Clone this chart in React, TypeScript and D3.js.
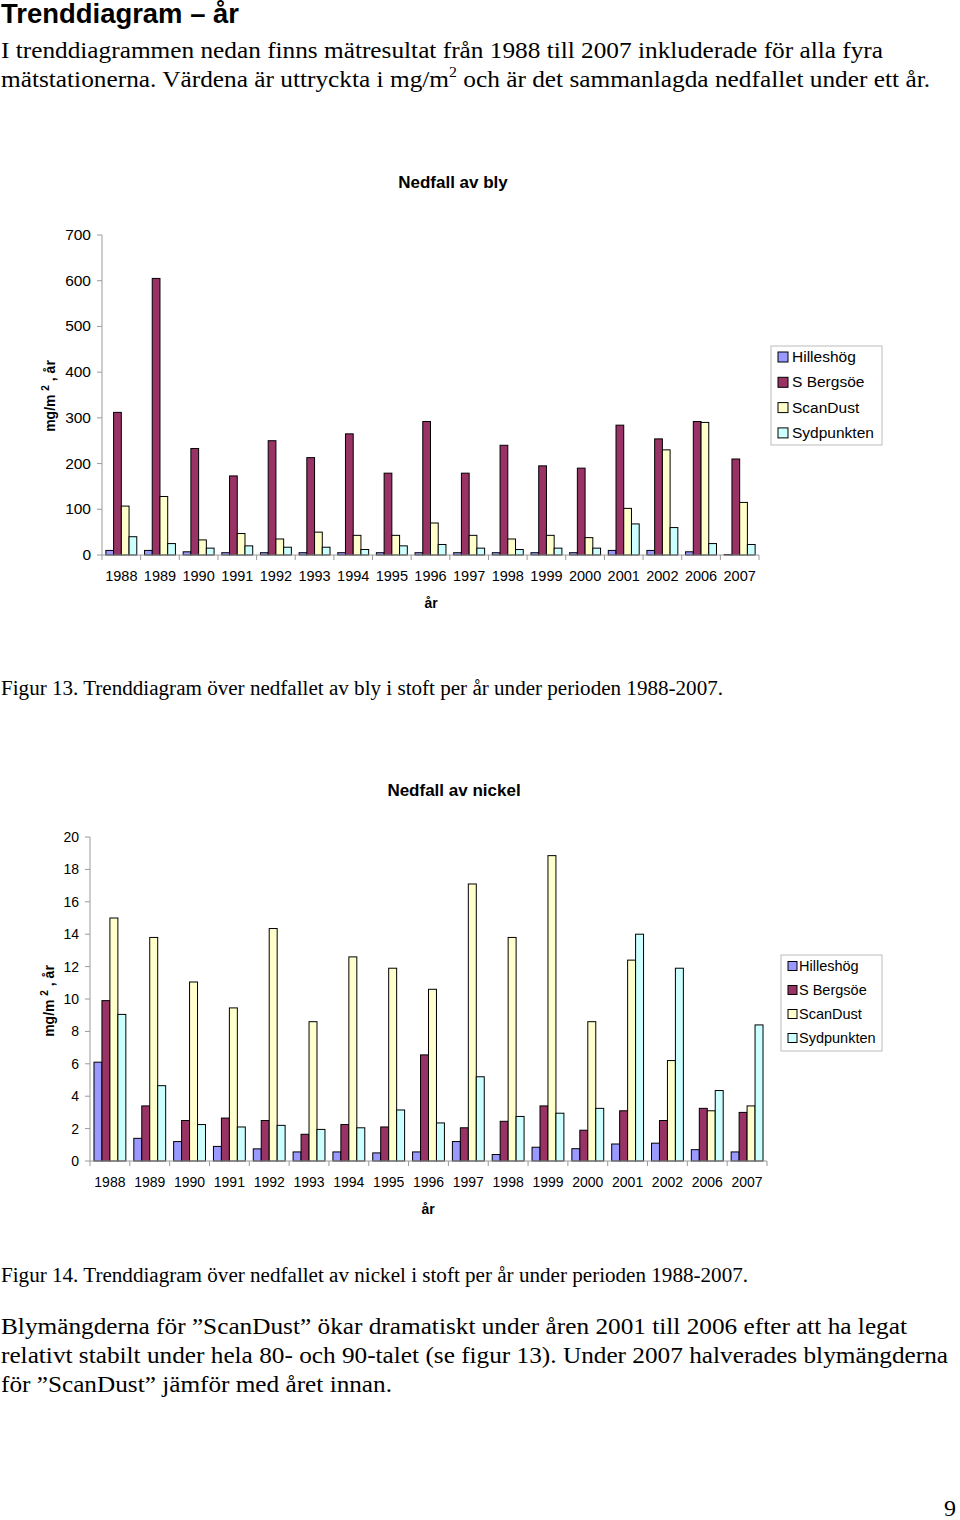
import React from "react";
import * as d3 from "d3";

const years = ["1988","1989","1990","1991","1992","1993","1994","1995","1996","1997","1998","1999","2000","2001","2002","2006","2007"];
const seriesNames = ["Hilleshög", "S Bergsöe", "ScanDust", "Sydpunkten"];
const seriesColors = ["#9999FF", "#993366", "#FFFFCC", "#CCFFFF"];

// Nedfall av bly (mg/m2, år)
const blyHilleshog = [10, 10, 7, 5, 5, 5, 5, 5, 5, 5, 5, 5, 5, 10, 10, 7, 1];
const blySBergsoe = [312, 605, 233, 173, 250, 213, 265, 179, 292, 179, 240, 195, 190, 284, 254, 292, 210];
const blyScanDust = [107, 128, 33, 47, 35, 50, 43, 43, 70, 43, 35, 43, 38, 102, 230, 290, 115];
const blySydpunkten = [40, 25, 15, 20, 17, 17, 12, 20, 23, 15, 12, 15, 15, 68, 60, 25, 23];
const blyTicks = [0, 100, 200, 300, 400, 500, 600, 700];

// Nedfall av nickel (mg/m2, år)
const niHilleshog = [6.1, 1.4, 1.2, 0.9, 0.75, 0.56, 0.56, 0.5, 0.56, 1.2, 0.4, 0.85, 0.76, 1.05, 1.1, 0.7, 0.56];
const niSBergsoe = [9.9, 3.4, 2.5, 2.65, 2.5, 1.65, 2.25, 2.1, 6.55, 2.05, 2.45, 3.4, 1.9, 3.1, 2.5, 3.25, 3.0];
const niScanDust = [15.0, 13.8, 11.05, 9.45, 14.35, 8.6, 12.6, 11.9, 10.6, 17.1, 13.8, 18.85, 8.6, 12.4, 6.2, 3.1, 3.4];
const niSydpunkten = [9.05, 4.65, 2.25, 2.1, 2.2, 1.95, 2.05, 3.15, 2.35, 5.2, 2.75, 2.95, 3.25, 14.0, 11.9, 4.35, 8.4];
const niTicks = [0, 2, 4, 6, 8, 10, 12, 14, 16, 18, 20];

type ChartProps = {
  title: string;
  titleX: number;
  titleY: number;
  data: number[][];
  ticks: number[];
  yMax: number;
  x0: number; x1: number; y0: number; y1: number;
  yLabelX: number; yLabelY: number;
  xLabelX: number; xLabelY: number;
  yTickFont: number;
  xTickFont: number;
  legend: { x: number; y: number; w: number; h: number; font: number; step: number; sw: number; tx: number };
};

function BarChart(p: ChartProps) {
  const x = d3.scaleBand<string>().domain(years).range([p.x0, p.x1]).padding(0);
  const bw = x.bandwidth();
  const inner = d3.scaleBand<string>().domain(seriesNames).range([bw * 0.1, bw * 0.9]).padding(0);
  const y = d3.scaleLinear().domain([0, p.yMax]).range([p.y0, p.y1]);
  const axisColor = "#9a9a9a";
  const font = "'Liberation Sans', Arial, sans-serif";
  return (
    <g fontFamily={font}>
      <text x={p.titleX} y={p.titleY} textAnchor="middle" fontWeight="bold" fontSize={17}>{p.title}</text>
      {/* y axis */}
      <line x1={p.x0} x2={p.x0} y1={y(p.yMax)} y2={y(0)} stroke={axisColor} />
      {p.ticks.map((t) => (
        <g key={t}>
          <line x1={p.x0 - 5} x2={p.x0} y1={y(t)} y2={y(t)} stroke={axisColor} />
          <text x={p.x0 - 11} y={y(t) + 5} textAnchor="end" fontSize={p.yTickFont}>{t}</text>
        </g>
      ))}
      {/* bars */}
      {years.map((yr, i) => (
        <g key={yr} transform={`translate(${x(yr)},0)`}>
          {seriesNames.map((s, j) => {
            const v = p.data[j][i];
            return (
              <rect key={s} x={inner(s)} y={y(v)} width={inner.bandwidth()} height={y(0) - y(v)}
                fill={seriesColors[j]} stroke="#000" strokeWidth={1} />
            );
          })}
        </g>
      ))}
      {/* x axis */}
      <line x1={p.x0} x2={p.x1} y1={y(0)} y2={y(0)} stroke={axisColor} />
      {years.map((yr) => (
        <line key={"t" + yr} x1={(x(yr) as number) + bw} x2={(x(yr) as number) + bw} y1={y(0)} y2={y(0) + 5} stroke={axisColor} />
      ))}
      <line x1={p.x0} x2={p.x0} y1={y(0)} y2={y(0) + 5} stroke={axisColor} />
      {years.map((yr) => (
        <text key={"l" + yr} x={(x(yr) as number) + bw / 2} y={y(0) + 26} textAnchor="middle" fontSize={p.xTickFont}>{yr}</text>
      ))}
      <text x={p.xLabelX} y={p.xLabelY} textAnchor="middle" fontWeight="bold" fontSize={14}>år</text>
      <text transform={`translate(${p.yLabelX},${p.yLabelY}) rotate(-90)`} textAnchor="middle" fontWeight="bold" fontSize={14}>
        mg/m <tspan fontSize={10} dy={-6}>2</tspan><tspan dy={6}> , år</tspan>
      </text>
      {/* legend */}
      <rect x={p.legend.x} y={p.legend.y} width={p.legend.w} height={p.legend.h} fill="#fff" stroke="#bbb" />
      {seriesNames.map((s, j) => {
        const cy = p.legend.y + 11 + j * p.legend.step;
        return (
          <g key={s}>
            <rect x={p.legend.x + 7} y={cy - p.legend.sw / 2} width={p.legend.sw} height={p.legend.sw} fill={seriesColors[j]} stroke="#000" />
            <text x={p.legend.tx} y={cy + 5} fontSize={p.legend.font}>{s}</text>
          </g>
        );
      })}
    </g>
  );
}

export default function App() {
  const serif = "'Liberation Serif', 'Times New Roman', serif";
  return (
    <svg width={960} height={1520} style={{ position: "absolute", left: 0, top: 0, background: "#fff" }}>
      <rect width={960} height={1520} fill="#fff" />
      <text x={1} y={23} fontFamily="'Liberation Sans', Arial, sans-serif" fontWeight="bold" fontSize={27} textLength={238} lengthAdjust="spacingAndGlyphs">Trenddiagram – år</text>
      <g fontFamily={serif} fontSize={24}>
        <text x={1} y={58} textLength={882} lengthAdjust="spacingAndGlyphs">I trenddiagrammen nedan finns mätresultat från 1988 till 2007 inkluderade för alla fyra</text>
        <text x={1} y={87} textLength={929} lengthAdjust="spacingAndGlyphs">
          <tspan>mätstationerna. Värdena är uttryckta i mg/m</tspan>
          <tspan fontSize={15} dy={-10}>2</tspan>
          <tspan dy={10}> och är det sammanlagda nedfallet under ett år.</tspan>
        </text>
      </g>
      <BarChart title="Nedfall av bly" titleX={453} titleY={188}
        data={[blyHilleshog, blySBergsoe, blyScanDust, blySydpunkten]}
        ticks={blyTicks} yMax={700}
        x0={102} x1={759} y0={555} y1={235}
        yLabelX={55} yLabelY={396} xLabelX={431} xLabelY={608}
        yTickFont={15.5} xTickFont={14.5}
        legend={{ x: 771, y: 346, w: 111, h: 99, font: 15.5, step: 25.3, sw: 10, tx: 792 }} />
      <text x={1} y={695} fontFamily={serif} fontSize={20} textLength={722} lengthAdjust="spacingAndGlyphs">Figur 13. Trenddiagram över nedfallet av bly i stoft per år under perioden 1988-2007.</text>
      <BarChart title="Nedfall av nickel" titleX={454} titleY={796}
        data={[niHilleshog, niSBergsoe, niScanDust, niSydpunkten]}
        ticks={niTicks} yMax={20}
        x0={90} x1={767} y0={1161} y1={837}
        yLabelX={54} yLabelY={1001} xLabelX={428} xLabelY={1214}
        yTickFont={14} xTickFont={14}
        legend={{ x: 781, y: 955, w: 101, h: 96, font: 14.5, step: 24, sw: 9, tx: 799 }} />
      <text x={1} y={1282} fontFamily={serif} fontSize={20} textLength={747} lengthAdjust="spacingAndGlyphs">Figur 14. Trenddiagram över nedfallet av nickel i stoft per år under perioden 1988-2007.</text>
      <g fontFamily={serif} fontSize={24}>
        <text x={1} y={1334} textLength={906} lengthAdjust="spacingAndGlyphs">Blymängderna för ”ScanDust” ökar dramatiskt under åren 2001 till 2006 efter att ha legat</text>
        <text x={1} y={1363} textLength={947} lengthAdjust="spacingAndGlyphs">relativt stabilt under hela 80- och 90-talet (se figur 13). Under 2007 halverades blymängderna</text>
        <text x={1} y={1392} textLength={391} lengthAdjust="spacingAndGlyphs">för ”ScanDust” jämför med året innan.</text>
        <text x={944} y={1516}>9</text>
      </g>
    </svg>
  );
}
